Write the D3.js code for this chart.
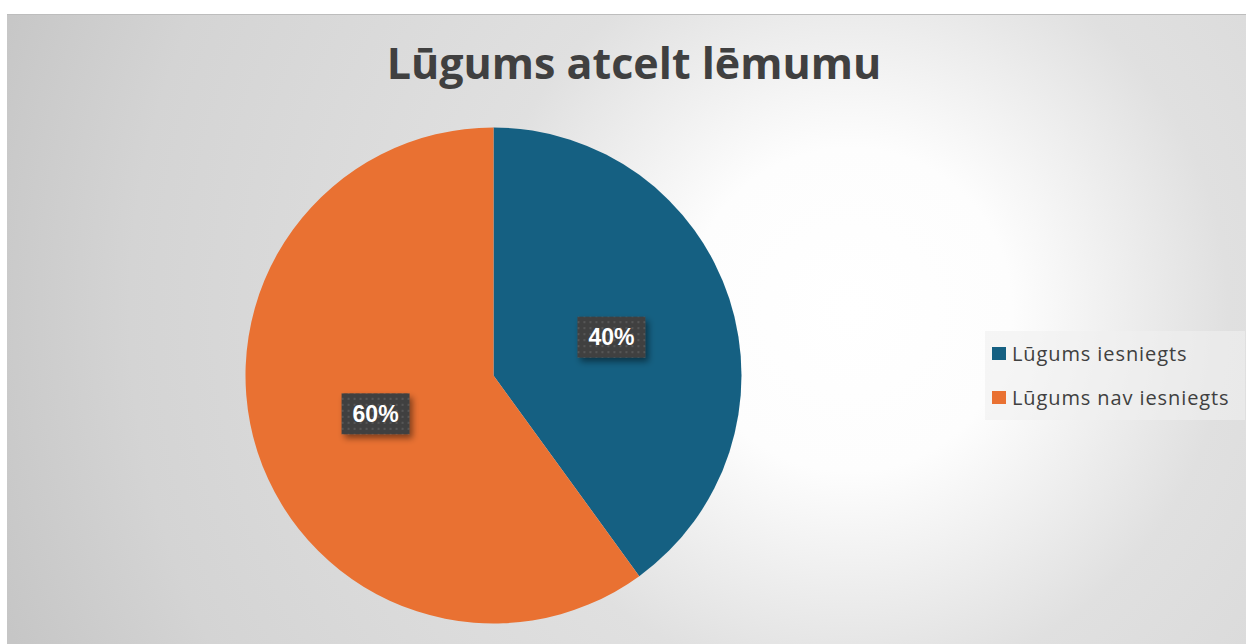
<!DOCTYPE html>
<html>
<head>
<meta charset="utf-8">
<script src="https://cdn.jsdelivr.net/npm/d3@7"></script>
<style>
  html, body { margin: 0; padding: 0; background: #fff; }
  svg { display: block; }
</style>
</head>
<body>
<div id="chart"></div>
<script>
const categories = ["Lūgums iesniegts", "Lūgums nav iesniegts"]
const values = [40, 60]
const colors = ["#156082", "#E97132"]
const title = "Lūgums atcelt lēmumu"

const W = 1248, H = 644
const PLOT = { LEFT: 7, TOP: 14, RIGHT: 1246, BOTTOM: 660 }
const CX = 493.5, CY = 375.5, R = 248

const svg = d3.select("#chart").append("svg")
  .attr("width", W)
  .attr("height", H)

const defs = svg.append("defs")

// background gradient
const grad = defs.append("radialGradient")
  .attr("id", "bg")
  .attr("gradientUnits", "userSpaceOnUse")
  .attr("cx", 850).attr("cy", 310).attr("r", 900)
  .attr("fx", 850).attr("fy", 310)
grad.append("stop").attr("offset", 0).attr("stop-color", "#ffffff")
grad.append("stop").attr("offset", 0.18).attr("stop-color", "#fdfdfd")
grad.append("stop").attr("offset", 0.42).attr("stop-color", "#e0e0e0")
grad.append("stop").attr("offset", 0.8).attr("stop-color", "#d4d4d4")
grad.append("stop").attr("offset", 1).attr("stop-color", "#c6c6c6")

// dotted pattern for data labels
const pat = defs.append("pattern")
  .attr("id", "dots")
  .attr("patternUnits", "userSpaceOnUse")
  .attr("width", 6).attr("height", 6)
pat.append("rect").attr("width", 6).attr("height", 6).attr("fill", "#404040")
pat.append("rect").attr("x", 2).attr("y", 2).attr("width", 2).attr("height", 2).attr("fill", "#575757")

const shadow = defs.append("filter")
  .attr("id", "shadow")
  .attr("x", "-30%").attr("y", "-30%").attr("width", "160%").attr("height", "170%")
shadow.append("feDropShadow")
  .attr("dx", 3).attr("dy", 4).attr("stdDeviation", 3)
  .attr("flood-color", "#000").attr("flood-opacity", 0.45)

svg.append("rect")
  .attr("x", PLOT.LEFT).attr("y", PLOT.TOP)
  .attr("width", PLOT.RIGHT - PLOT.LEFT)
  .attr("height", PLOT.BOTTOM - PLOT.TOP)
  .attr("fill", "url(#bg)")

svg.append("line")
  .attr("x1", PLOT.LEFT).attr("x2", PLOT.RIGHT)
  .attr("y1", PLOT.TOP + 0.5).attr("y2", PLOT.TOP + 0.5)
  .attr("stroke", "#bdbdbd")

svg.append("text")
  .attr("x", 634)
  .attr("y", 79)
  .attr("text-anchor", "middle")
  .attr("font-family", "'Open Sans', sans-serif")
  .attr("font-weight", "bold")
  .attr("font-size", "43px")
  .attr("fill", "#404040")
  .text(title)

const data = categories.map((c, i) => ({ name: c, value: values[i], color: colors[i] }))
const color = d3.scaleOrdinal().domain(categories).range(colors)

const pie = d3.pie().sort(null).value(d => d.value)
const arc = d3.arc().innerRadius(0).outerRadius(R)
const labelArc = d3.arc().innerRadius(R / 2).outerRadius(R / 2)
const total = d3.sum(values)

const g = svg.append("g").attr("transform", `translate(${CX}, ${CY})`)

g.selectAll("path.slice")
  .data(pie(data))
  .enter().append("path")
    .attr("class", "slice")
    .attr("d", arc)
    .attr("fill", d => color(d.data.name))

const labels = g.selectAll("g.label")
  .data(pie(data))
  .enter().append("g")
    .attr("class", "label")
    .attr("transform", d => `translate(${labelArc.centroid(d)})`)

labels.append("rect")
  .attr("x", -34).attr("y", -20.5)
  .attr("width", 68).attr("height", 41)
  .attr("fill", "url(#dots)")
  .attr("filter", "url(#shadow)")

labels.append("text")
  .attr("text-anchor", "middle")
  .attr("dy", "0.36em")
  .attr("font-family", "'Liberation Sans', Arial, sans-serif")
  .attr("font-weight", "bold")
  .attr("font-size", "23px")
  .attr("fill", "#ffffff")
  .text(d => d3.format(".0%")(d.data.value / total))

// legend
const legend = svg.append("g").attr("transform", "translate(985, 331)")
legend.append("rect")
  .attr("width", 260).attr("height", 89)
  .attr("fill", "#f0f0f0").attr("opacity", 0.6)

const items = legend.selectAll("g.item")
  .data(data)
  .enter().append("g")
    .attr("class", "item")
    .attr("transform", (d, i) => `translate(7, ${16 + i * 44})`)

items.append("rect")
  .attr("width", 14).attr("height", 13)
  .attr("fill", d => d.color)

items.append("text")
  .attr("x", 20)
  .attr("y", 7)
  .attr("dy", "0.35em")
  .attr("font-family", "'Open Sans', sans-serif")
  .attr("font-size", "20px")
  .attr("letter-spacing", "0.9px")
  .attr("fill", "#404040")
  .text(d => d.name)
</script>
</body>
</html>
